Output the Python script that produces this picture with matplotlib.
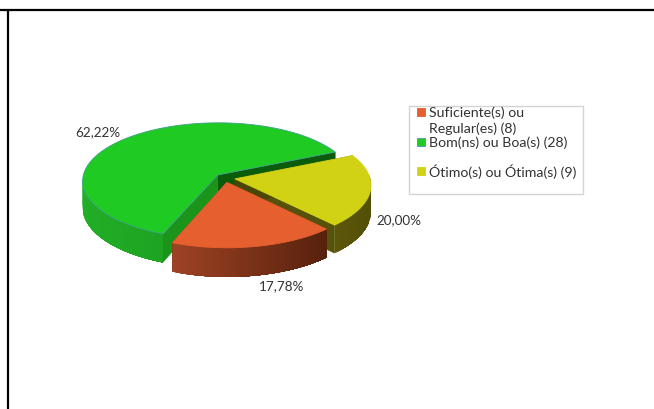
import numpy as np
import matplotlib
matplotlib.use("Agg")
import matplotlib.pyplot as plt
from matplotlib.patches import Polygon, Rectangle

# Data, in drawing order (counter-clockwise from the green start)
categories = ["Bom(ns) ou Boa(s) (28)", "Suficiente(s) ou\nRegular(es) (8)", "Ótimo(s) ou Ótima(s) (9)"]
values = [28, 8, 9]
pct_labels = ["62,22%", "17,78%", "20,00%"]

top_colors = ["#1FCB23", "#E55F2F", "#D2D215"]
side_left = [(0.13, 0.68, 0.15), (0.62, 0.26, 0.14), (0.36, 0.34, 0.04)]
side_right = [(0.09, 0.55, 0.11), (0.34, 0.13, 0.05), (0.33, 0.31, 0.03)]
wall_start = ["#0A5C0A", "#5A2A10", "#56520A"]
wall_end = ["#1A951A", "#5A2A10", "#4A4606"]

plt.rcParams["font.family"] = ["Lato", "DejaVu Sans"]
fig = plt.figure(figsize=(6.54, 4.10), dpi=100)
ax = fig.add_axes([0, 0, 1, 1])
ax.set_xlim(0, 654)
ax.set_ylim(410, 0)
ax.axis("off")

CX, CY, A, B, K, DEPTH, EXPL = 225, 179, 135, 58.0, 0.10, 26, 0.075
START = 24.6


def project(u, v, drop=0.0):
    s = 1 / (1 - K * v)
    return CX + A * u * s, CY + (B * v + drop) * s


def disc(theta_deg):
    t = np.radians(theta_deg)
    return np.cos(t), -np.sin(t)


def draw_slice(t0, t1, i, z):
    mid = (t0 + t1) / 2
    du, dv = disc(mid)
    ou, ov = du * EXPL, dv * EXPL
    ang = np.linspace(t0, t1, 120)
    rim = [(disc(a)[0] + ou, disc(a)[1] + ov) for a in ang]
    apex = (ou, ov)

    # cut walls
    for (eu, ev), col in ((rim[0], wall_start[i]), (rim[-1], wall_end[i])):
        quad = [project(*apex), project(eu, ev), project(eu, ev, DEPTH), project(*apex, DEPTH)]
        ax.add_patch(Polygon(quad, closed=True, fc=col, ec=col, lw=0.3, zorder=z))

    # outer wall with a horizontal gradient; each quad reaches to the far end of
    # its neighbours so that no seam shows
    xs = [project(*p)[0] for p in rim]
    xmin, xmax = min(xs), max(xs)
    c0, c1 = np.array(side_left[i]), np.array(side_right[i])
    visible = [j for j in range(len(rim)) if rim[j][1] > -0.05]
    visible.sort(key=lambda j: project(*rim[j])[0])
    for n, j in enumerate(visible):
        chain = [rim[k] for k in visible[n:]]
        f = (project(*rim[j])[0] - xmin) / max(xmax - xmin, 1)
        col = tuple(c0 + (c1 - c0) * f)
        top = [project(*p) for p in chain]
        bot = [project(*p, DEPTH) for p in chain][::-1]
        if len(top) < 2:
            continue
        ax.add_patch(Polygon(top + bot, closed=True, fc=col, ec="none", lw=0, zorder=z))

    # top face
    pts = [project(*apex)] + [project(*p) for p in rim]
    edge = "#3F9E8C" if i == 0 else top_colors[i]
    ax.add_patch(Polygon(pts, closed=True, fc=top_colors[i], ec=edge, lw=0.6, zorder=z))


total = sum(values)
theta = START
spans = []
for v in values:
    spans.append((theta, theta + 360 * v / total))
    theta += 360 * v / total
for z, i in enumerate([0, 2, 1]):
    draw_slice(spans[i][0], spans[i][1], i, 2 + z)

label_pos = [(98, 132), (282, 286), (399, 220)]
for txt, (x, y) in zip(pct_labels, label_pos):
    ax.text(x, y, txt, fontsize=9.7, color="#333333", ha="center", va="center", zorder=10)

# Legend box
ax.add_patch(Rectangle((409, 107), 174, 88, fc="white", ec="#D4D4D4", lw=1.0, zorder=5))
legend_rows = [(1, 113), (0, 143), (2, 172)]
for idx, y in legend_rows:
    ax.add_patch(Rectangle((417, y - 4), 8, 8, fc=top_colors[idx],
                           ec="#5B8DB8" if idx == 0 else top_colors[idx], lw=0.6, zorder=6))
    for n, line in enumerate(categories[idx].split("\n")):
        ax.text(429, y + n * 16, line, fontsize=10.2, color="#333333", ha="left", va="center", zorder=6)

# Page frame lines
ax.plot([0, 654], [10.5, 10.5], color="black", lw=1.6, solid_capstyle="butt", zorder=12)
ax.plot([8, 8], [10, 410], color="black", lw=1.6, solid_capstyle="butt", zorder=12)

fig.savefig("out.png", dpi=100)
